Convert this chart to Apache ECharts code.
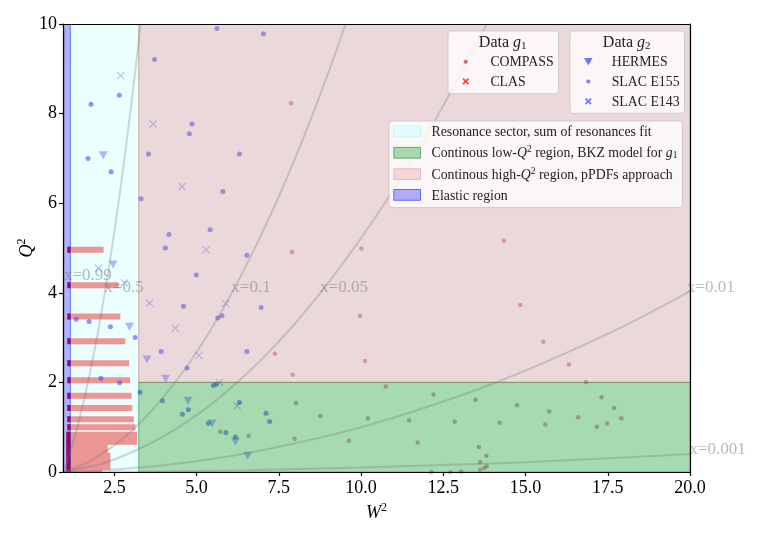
<!DOCTYPE html>
<html><head><meta charset="utf-8">
<script src="https://cdn.jsdelivr.net/npm/echarts@6/dist/echarts.min.js"></script>
<style>html,body{margin:0;padding:0;background:#fff}#c{width:763px;height:534px}</style>
</head><body><div id="c"></div>
<script>
// ---------------- data ----------------
const xTicks = [2.5, 5, 7.5, 10, 12.5, 15, 17.5, 20];
const yTicks = [0, 2, 4, 6, 8, 10];

// kinematic regions (W^2 ranges, Q^2 ranges)
const elasticW = [0.938, 1.162];
const resonanceW = [1.162, 3.24];
const continuumW = [3.24, 20];
const lowQ2 = [0, 2];
const highQ2 = [2, 10];
const fullQ2 = [0, 10];

// COMPASS (g1)
const compassW = [7.87, 7.90, 7.38, 7.92, 5.72, 6.58, 8.02, 7.98, 10.01, 14.34, 9.97, 14.84, 10.12, 15.54, 16.32, 16.84, 10.75, 8.76, 10.21, 9.63, 12.20, 11.46, 11.72, 12.85, 13.48, 13.58, 13.81, 13.62, 13.82, 13.75, 13.62, 13.04, 12.72, 12.14, 14.21, 14.74, 15.72, 15.60, 16.60, 17.31, 17.69, 17.17, 17.48, 17.91];
const compassQ2 = [8.23, 4.91, 2.64, 2.17, 0.90, 0.81, 1.54, 0.74, 4.99, 5.16, 3.49, 3.73, 2.48, 2.91, 2.40, 2.01, 1.91, 1.25, 1.20, 0.70, 1.73, 1.15, 0.66, 1.12, 1.61, 0.56, 0.36, 0.22, 0.13, 0.09, 0.05, 0.01, 0.00, 0.00, 1.10, 1.49, 1.35, 1.06, 1.22, 1.67, 1.43, 1.01, 1.08, 1.20];

// CLAS (g1): dense rows of points at fixed Q^2 bins (row Q^2, first W^2, last W^2)
const clasRowQ2 = [4.96, 4.17, 3.47, 2.92, 2.43, 2.05, 1.70, 1.43, 1.18, 1.00];
const clasRowStartW = [1.07, 1.07, 1.07, 1.07, 1.07, 1.07, 1.07, 1.07, 1.07, 1.07];
const clasRowEndW = [2.17, 2.63, 2.68, 2.83, 2.95, 2.98, 3.02, 3.05, 3.09, 3.14];
// CLAS low-Q^2 dense block outline
const clasBlockW = [1.04, 1.04, 3.19, 3.19, 2.30, 2.30, 2.38, 2.38, 2.13, 2.13];
const clasBlockQ2 = [0.00, 0.90, 0.90, 0.61, 0.61, 0.43, 0.43, 0.05, 0.05, 0.00];

// HERMES (g2)
const hermesW = [2.16, 2.46, 2.96, 3.49, 4.06, 4.74, 5.47, 6.18, 6.55];
const hermesQ2 = [7.07, 4.63, 3.24, 2.51, 2.08, 1.59, 1.08, 0.68, 0.36];

// SLAC E155 (g2)
const e155W = [2.65, 1.79, 1.70, 2.40, 3.72, 5.62, 7.03, 4.86, 4.78, 3.54, 6.30, 5.80, 3.31, 4.16, 5.41, 4.05, 4.99, 6.53, 4.60, 6.96, 5.64, 5.77, 1.34, 1.73, 2.38, 3.13, 3.92, 4.71, 6.53, 2.09, 2.66, 3.28, 3.96, 4.75, 4.57, 5.51, 5.60, 6.30, 5.36, 5.89, 6.18, 7.11, 7.22];
const e155Q2 = [8.41, 8.21, 7.00, 6.70, 9.21, 9.90, 9.78, 7.77, 7.55, 7.10, 7.10, 6.26, 6.10, 5.30, 5.41, 5.00, 4.40, 4.84, 3.70, 3.67, 3.44, 3.49, 3.41, 3.36, 3.24, 3.00, 2.69, 2.32, 2.69, 2.09, 1.99, 1.78, 1.59, 1.39, 1.29, 1.93, 1.96, 1.55, 1.09, 0.88, 0.78, 1.31, 1.13];

// SLAC E143 (g2)
const e143W = [2.69, 3.68, 4.56, 5.29, 2.02, 2.81, 3.57, 5.88, 4.35, 5.07, 5.70, 6.23];
const e143Q2 = [8.85, 7.77, 6.37, 4.96, 4.55, 4.22, 3.77, 3.76, 3.21, 2.60, 2.00, 1.48];

// constant-x lines
const curveNames = ['x=0.99', 'x=0.5', 'x=0.1', 'x=0.05', 'x=0.01', 'x=0.001'];
const curveW = [
  [0.938, 0.95, 0.96, 0.97, 0.98, 0.99],
  [0.94, 1.0, 1.2, 1.4, 1.6, 1.8, 2.0, 2.2, 2.4, 2.6, 2.8, 3.0, 3.2, 3.3],
  [0.94, 1.5, 2, 2.5, 3, 3.5, 4, 4.5, 5, 5.5, 6, 6.5, 7, 7.5, 8, 8.5, 9, 9.53],
  [0.94, 2, 3, 4, 5, 6, 7, 8, 9, 10, 11, 12, 13, 13.82],
  [0.94, 2, 4, 6, 8, 10, 12, 14, 16, 18, 20],
  [0.94, 2.5, 5, 7.5, 10, 12.5, 15, 17.5, 20]
];
const curveQ2 = [
  [0, 2.2, 4.1, 6.0, 8.0, 9.9],
  [0, 0.12, 0.56, 1.08, 1.68, 2.36, 3.12, 3.96, 4.88, 5.88, 6.96, 8.12, 9.36, 10.01],
  [0, 0.15, 0.35, 0.60, 0.90, 1.26, 1.68, 2.15, 2.68, 3.26, 3.90, 4.60, 5.35, 6.15, 7.01, 7.93, 8.90, 10.0],
  [0, 0.16, 0.43, 0.80, 1.27, 1.85, 2.53, 3.32, 4.22, 5.22, 6.32, 7.53, 8.85, 10.0],
  [0, 0.03, 0.15, 0.35, 0.64, 1.0, 1.45, 1.97, 2.58, 3.26, 4.03],
  [0, 0.005, 0.02, 0.055, 0.10, 0.155, 0.22, 0.306, 0.40]
];
// label anchors for the constant-x lines
const curveLabelW = [0.98, 2.21, 6.07, 8.77, 19.92, 20.0];
const curveLabelQ2 = [4.27, 4.0, 4.0, 4.0, 4.0, 0.40];

// ---------------- styling helpers ----------------
const FONT = 'Liberation Serif';
const zip = (a, b) => a.map((v, i) => [v, b[i]]);

function polyIcon(w, h, pts) {
  let s = 'path://M0,0M' + w + ',' + h;
  pts.forEach((p, i) => { s += (i === 0 ? 'M' : 'L') + p[0].toFixed(2) + ',' + p[1].toFixed(2); });
  return s + 'Z';
}
function dotIcon(w, h, cx, cy, r) {
  const pts = [];
  for (let k = 0; k < 16; k++) { const a = k / 16 * Math.PI * 2; pts.push([cx + r * Math.cos(a), cy + r * Math.sin(a)]); }
  return polyIcon(w, h, pts);
}
function xIcon(w, h, cx, cy, r, t) {
  const P = [[-r, -r + t], [-r + t, -r], [0, -t], [r - t, -r], [r, -r + t], [t, 0], [r, r - t], [r - t, r], [0, t], [-r + t, r], [-r, r - t], [-t, 0]];
  return polyIcon(w, h, P.map(p => [cx + p[0], cy + p[1]]));
}
function triIcon(w, h, cx, cy, hw, hh) {
  return polyIcon(w, h, [[cx - hw, cy - hh], [cx + hw, cy - hh], [cx, cy + hh]]);
}
function rectIcon(w, h, x0, x1, y0, y1) {
  return polyIcon(w, h, [[x0, y0], [x1, y0], [x1, y1], [x0, y1]]);
}
const X_SYMBOL = 'path://M0,1L1,0L5,4L9,0L10,1L6,5L10,9L9,10L5,6L1,10L0,9L4,5Z';
const TRI_DOWN = 'path://M0,0L10,0L5,9Z';

function regionSeries(name, w, q, fill, stroke, z) {
  return {
    type: 'custom', name: name, z: z, clip: true, silent: true,
    itemStyle: { color: fill },
    data: [[w[0], w[1], q[0], q[1]]],
    encode: { x: [0, 1], y: [2, 3] },
    renderItem: (params, api) => {
      const p0 = api.coord([api.value(0), api.value(3)]);
      const p1 = api.coord([api.value(1), api.value(2)]);
      return { type: 'rect', shape: { x: p0[0], y: p0[1], width: p1[0] - p0[0], height: p1[1] - p0[1] },
        style: { fill: fill, stroke: stroke, lineWidth: 1 } };
    }
  };
}

const LFS = 13.8;
const legendBase = {
  orient: 'vertical', backgroundColor: 'rgba(255,255,255,0.8)', borderColor: 'rgba(200,200,200,0.9)',
  borderWidth: 1, borderRadius: 3, selectedMode: false, z: 20, itemHeight: 14,
  textStyle: { fontFamily: FONT, fontSize: LFS, color: '#222',
    rich: {
      t: { fontFamily: FONT, fontSize: LFS, color: '#222', lineHeight: 16, verticalAlign: 'bottom' },
      i: { fontFamily: FONT, fontSize: LFS, fontStyle: 'italic', color: '#222', lineHeight: 16, verticalAlign: 'bottom' },
      sup: { fontFamily: FONT, fontSize: 9.5, color: '#222', lineHeight: 16, verticalAlign: 'top' },
      sub: { fontFamily: FONT, fontSize: 9.5, color: '#222', lineHeight: 12, verticalAlign: 'bottom' }
    } }
};
const regionNames = ['Resonance sector, sum of resonances fit', 'Continous low-Q2 region, BKZ model for g1',
  'Continous high-Q2 region, pPDFs approach', 'Elastic region'];
const regionLabels = {
  'Resonance sector, sum of resonances fit': '{t|Resonance sector, sum of resonances fit}',
  'Continous low-Q2 region, BKZ model for g1': '{t|Continous low-}{i|Q}{sup|2}{t| region, BKZ model for }{i|g}{sub|1}',
  'Continous high-Q2 region, pPDFs approach': '{t|Continous high-}{i|Q}{sup|2}{t| region, pPDFs approach}',
  'Elastic region': '{t|Elastic region}'
};

const series = [];
// data (drawn below the region overlays)
series.push({
  type: 'custom', name: 'CLAS', z: 2, clip: true, silent: true,
  itemStyle: { color: 'rgb(255,70,70)' },
  data: clasRowQ2.map((q, i) => [clasRowStartW[i], clasRowEndW[i], q]),
  encode: { x: [0, 1], y: 2 },
  renderItem: (params, api) => {
    const a = api.coord([api.value(0), api.value(2)]);
    const b = api.coord([api.value(1), api.value(2)]);
    const e = api.coord([Math.min(elasticW[1], api.value(1)), api.value(2)]);
    return { type: 'group', children: [
      { type: 'rect', shape: { x: a[0], y: a[1] - 3, width: b[0] - a[0], height: 6 }, style: { fill: 'rgba(255,0,0,0.45)' } },
      { type: 'rect', shape: { x: a[0], y: a[1] - 3, width: Math.max(0, e[0] - a[0]), height: 6 }, style: { fill: 'rgba(230,0,0,0.9)' } }
    ] };
  }
});
series.push({
  type: 'custom', name: 'CLAS', z: 2, clip: true, silent: true,
  itemStyle: { color: 'rgb(255,70,70)' },
  data: [[clasBlockW[0], clasBlockQ2[0]]],
  renderItem: (params, api) => {
    const pts = clasBlockW.map((w, i) => api.coord([w, clasBlockQ2[i]]));
    const c0 = api.coord([clasBlockW[0], clasBlockQ2[1]]);
    const c1 = api.coord([elasticW[1], clasBlockQ2[0]]);
    return { type: 'group', children: [
      { type: 'polygon', shape: { points: pts }, style: { fill: 'rgba(255,0,0,0.45)' } },
      { type: 'rect', shape: { x: c0[0], y: c0[1], width: c1[0] - c0[0], height: c1[1] - c0[1] }, style: { fill: 'rgba(225,0,0,0.92)' } }
    ] };
  }
});
series.push({ type: 'scatter', name: 'COMPASS', z: 2, symbol: 'circle', symbolSize: 4.5,
  itemStyle: { color: 'rgba(190,60,60,0.6)' }, data: zip(compassW, compassQ2), silent: true });
series.push({ type: 'scatter', name: 'HERMES', z: 2, symbol: TRI_DOWN, symbolSize: [9, 8],
  itemStyle: { color: 'rgba(70,70,255,0.5)' }, data: zip(hermesW, hermesQ2), silent: true });
series.push({ type: 'scatter', name: 'SLAC E155', z: 2, symbol: 'circle', symbolSize: 5,
  itemStyle: { color: 'rgba(70,70,255,0.75)' }, data: zip(e155W, e155Q2), silent: true });
series.push({ type: 'scatter', name: 'SLAC E143', z: 2, symbol: X_SYMBOL, symbolSize: 8,
  itemStyle: { color: 'rgba(70,70,255,0.45)' }, data: zip(e143W, e143Q2), silent: true });

// region overlays
series.push(regionSeries(regionNames[0], resonanceW, fullQ2, 'rgba(0,255,255,0.08)', 'rgba(0,200,200,0.15)', 3));
series.push(regionSeries(regionNames[2], continuumW, highQ2, 'rgba(190,125,132,0.3)', 'rgba(200,70,70,0.35)', 3));
series.push(regionSeries(regionNames[1], continuumW, lowQ2, 'rgba(0,150,30,0.35)', 'rgba(0,110,20,0.4)', 3));
series.push(regionSeries(regionNames[3], elasticW, fullQ2, 'rgba(0,0,255,0.3)', 'rgba(0,0,255,0.45)', 3));

// constant-x lines
curveNames.forEach((n, k) => {
  series.push({ type: 'line', name: n, z: 4, silent: true, symbol: 'none', smooth: 0.3,
    lineStyle: { color: 'rgba(110,110,110,0.28)', width: 2 }, data: zip(curveW[k], curveQ2[k]) });
});
series.push({ type: 'scatter', name: 'curve labels', z: 4, silent: true, symbolSize: 1, clip: false,
  itemStyle: { color: 'rgba(0,0,0,0)' },
  data: curveNames.map((n, k) => ({ name: n, value: [curveLabelW[k], curveLabelQ2[k]] })),
  label: { show: true, position: [0, 0], align: 'left', verticalAlign: 'bottom', offset: [0, 4],
    formatter: p => p.name, fontFamily: FONT, fontSize: 17, color: 'rgba(110,110,110,0.6)' } });

const axisLineStyle = { color: '#000', width: 1.2 };
const titleRich = { i: { fontFamily: FONT, fontSize: 16, fontStyle: 'italic', fill: '#222' }, sub: { fontFamily: FONT, fontSize: 11, fill: '#222', padding: [7, 0, 0, 0] } };
const option = {
  animation: false,
  backgroundColor: '#fff',
  grid: { left: 63, right: 73, top: 24, bottom: 62 },
  xAxis: [{
    type: 'value', min: elasticW[0], max: 20, z: 10,
    name: '{i|W}{sup|2}', nameLocation: 'middle', nameGap: 28,
    nameTextStyle: { rich: { i: { fontFamily: FONT, fontStyle: 'italic', fontSize: 18, color: '#000', lineHeight: 20, verticalAlign: 'bottom' },
      sup: { fontFamily: FONT, fontSize: 12, color: '#000', lineHeight: 20, verticalAlign: 'top' } } },
    axisLine: { show: true, lineStyle: axisLineStyle },
    axisTick: { show: true, length: 4, lineStyle: axisLineStyle, customValues: xTicks },
    axisLabel: { customValues: xTicks, formatter: v => v.toFixed(1), fontFamily: FONT, fontSize: 18, color: '#000', margin: 7 },
    splitLine: { show: false }
  }, {
    type: 'value', min: elasticW[0], max: 20, position: 'top', z: 10,
    axisLine: { show: true, onZero: false, lineStyle: axisLineStyle }, axisTick: { show: false }, axisLabel: { show: false }, splitLine: { show: false }
  }],
  yAxis: [{
    type: 'value', min: 0, max: 10, interval: 2, z: 10,
    name: '{i|Q}{sup|2}', nameLocation: 'middle', nameGap: 27, nameMoveOverlap: false,
    nameTextStyle: { rich: { i: { fontFamily: FONT, fontStyle: 'italic', fontSize: 18, color: '#000', lineHeight: 20, verticalAlign: 'bottom' },
      sup: { fontFamily: FONT, fontSize: 12, color: '#000', lineHeight: 20, verticalAlign: 'top' } } },
    axisLine: { show: true, lineStyle: axisLineStyle },
    axisTick: { show: true, length: 4, lineStyle: axisLineStyle, customValues: yTicks },
    axisLabel: { customValues: yTicks, fontFamily: FONT, fontSize: 18, color: '#000', margin: 6 },
    splitLine: { show: false }
  }, {
    type: 'value', min: 0, max: 10, position: 'right', z: 10,
    axisLine: { show: true, onZero: false, lineStyle: axisLineStyle }, axisTick: { show: false }, axisLabel: { show: false }, splitLine: { show: false }
  }],
  legend: [
    Object.assign({}, legendBase, {
      left: 448, top: 31, padding: [23.7, 5, 4.4, 11.4], itemGap: 4.6, itemWidth: 26,
      formatter: n => '{t|' + n + '}',
      data: [
        { name: 'COMPASS', icon: dotIcon(26, 14, 6.3, 7, 2.1), itemStyle: { color: 'rgb(190,80,80)' } },
        { name: 'CLAS', icon: xIcon(26, 14, 6.3, 7, 3.4, 1.3), itemStyle: { color: 'rgb(255,70,70)' } }
      ]
    }),
    Object.assign({}, legendBase, {
      left: 570, top: 31, padding: [23.7, 5, 4, 6], itemGap: 4.8, itemWidth: 30.7,
      formatter: n => '{t|' + n + '}',
      data: [
        { name: 'HERMES', icon: triIcon(30.7, 14, 12.3, 7, 4.3, 3.8), itemStyle: { color: 'rgb(80,80,255)' } },
        { name: 'SLAC E155', icon: dotIcon(30.7, 14, 12.3, 7, 2.1), itemStyle: { color: 'rgb(100,100,250)' } },
        { name: 'SLAC E143', icon: xIcon(30.7, 14, 12.3, 7, 3.4, 1.3), itemStyle: { color: 'rgb(90,90,255)' } }
      ]
    }),
    Object.assign({}, legendBase, {
      left: 389, top: 121, padding: [3, 5, 4.7, 4.3], itemGap: 5.3, itemWidth: 32.7,
      formatter: n => regionLabels[n],
      data: [
        { name: regionNames[0], icon: rectIcon(32.7, 14, 0, 26.7, 1.6, 12.4), itemStyle: { color: 'rgb(228,252,252)', borderColor: 'rgba(0,200,200,0.15)', borderWidth: 1 } },
        { name: regionNames[1], icon: rectIcon(32.7, 14, 0, 26.7, 1.6, 12.4), itemStyle: { color: 'rgb(170,214,176)', borderColor: 'rgba(0,110,20,0.5)', borderWidth: 1 } },
        { name: regionNames[2], icon: rectIcon(32.7, 14, 0, 26.7, 1.6, 12.4), itemStyle: { color: 'rgb(247,212,214)', borderColor: 'rgba(220,120,120,0.4)', borderWidth: 1 } },
        { name: regionNames[3], icon: rectIcon(32.7, 14, 0, 26.7, 1.6, 12.4), itemStyle: { color: 'rgb(172,172,250)', borderColor: 'rgba(0,0,255,0.5)', borderWidth: 1 } }
      ]
    })
  ],
  graphic: [
    { type: 'text', z: 30, x: 502.7, y: 43, style: { text: 'Data {i|g}{sub|1}', align: 'center', verticalAlign: 'middle',
      font: '16px ' + FONT, fill: '#222', rich: titleRich } },
    { type: 'text', z: 30, x: 626.7, y: 43, style: { text: 'Data {i|g}{sub|2}', align: 'center', verticalAlign: 'middle',
      font: '16px ' + FONT, fill: '#222', rich: titleRich } }
  ],
  series: series
};
const chart = echarts.init(document.getElementById('c'), null, { renderer: 'canvas' });
chart.setOption(option);
</script>
</body></html>
